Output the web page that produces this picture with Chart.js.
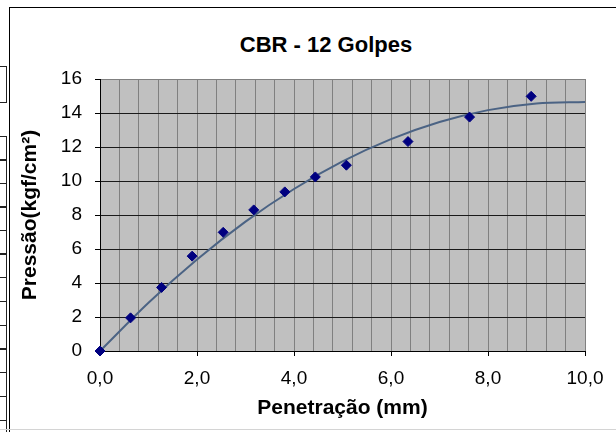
<!DOCTYPE html>
<html lang="pt">
<head>
<meta charset="UTF-8" />
<title>CBR - 12 Golpes</title>
<style>
  body {
    margin: 0;
    background: #fff;
    overflow: hidden;
    font-family: "Liberation Sans", Arial, sans-serif;
  }
  #frame {
    position: absolute;
    left: 9px;
    top: 7px;
    width: 620px;
    height: 440px;
    border-left: 1px solid #000;
    border-top: 1px solid #000;
  }
  #sheetEdge {
    position: absolute;
    left: 0;
    top: 429px;
    width: 616px;
    height: 1px;
    background: #d4d4d4;
  }
  .cell {
    position: absolute;
    left: -1px;
    width: 6px;
    border: 1px solid #222;
  }
  #title {
    position: absolute;
    left: 0;
    width: 652px;
    top: 31px;
    line-height: 28px;
    text-align: center;
    font-weight: bold;
    font-size: 22px;
    color: #000;
  }
  #chart-container {
    position: absolute;
    left: 0;
    top: 0;
    width: 616px;
    height: 432px;
  }
</style>
<script src="https://cdn.jsdelivr.net/npm/chart.js"></script>
</head>
<body>
<div id="cells"></div>
<div id="frame"></div>
<div id="sheetEdge"></div>
<div id="title">CBR - 12 Golpes</div>
<div id="chart-container">
  <canvas id="cbrChart"></canvas>
</div>

<script>
  // leituras do ensaio
  const penetracao = [0, 0.63, 1.27, 1.90, 2.54, 3.17, 3.81, 4.44, 5.08, 6.35, 7.62, 8.89];
  const pressao = [0, 1.95, 3.74, 5.58, 6.98, 8.30, 9.36, 10.24, 10.93, 12.32, 13.76, 14.98];

  // linha de tendencia
  const tendenciaX = [0, 1, 2, 3, 4, 5, 6, 7, 8, 9, 10];
  const tendenciaY = [0, 2.84, 5.38, 7.61, 9.53, 11.15, 12.46, 13.47, 14.17, 14.56, 14.65];

  // celulas da planilha na margem esquerda
  const cellTops = [66, 136, 159, 183, 206, 230, 253, 277, 301, 325, 348, 372, 396, 420];
  const cellsDiv = document.getElementById("cells");
  cellTops.forEach((top, i) => {
    const d = document.createElement("div");
    d.className = "cell";
    d.style.top = top + "px";
    d.style.height = (i === 0 ? 35 : 23) + "px";
    cellsDiv.appendChild(d);
  });

  const isMajor = (v) => Math.abs(v / 2 - Math.round(v / 2)) < 1e-6;

  const plotBackground = {
    id: "plotBackground",
    beforeDraw(chart) {
      const { ctx, chartArea } = chart;
      ctx.save();
      ctx.fillStyle = "#c0c0c0";
      ctx.fillRect(chartArea.left, chartArea.top, chartArea.width, chartArea.height);
      ctx.restore();
    },
  };

  const font = "'Liberation Sans', Arial, sans-serif";

  const ctx = document.getElementById("cbrChart").getContext("2d");
  new Chart(ctx, {
    type: "scatter",
    data: {
      datasets: [
        {
          label: "Pressão",
          data: penetracao.map((x, i) => ({ x: x, y: pressao[i] })),
          pointStyle: "rectRot",
          pointRadius: 5,
          pointBackgroundColor: "#000080",
          pointBorderColor: "#000080",
          pointBorderWidth: 1,
          showLine: false,
          clip: false,
        },
        {
          label: "Tendência",
          data: tendenciaX.map((x, i) => ({ x: x, y: tendenciaY[i] })),
          showLine: true,
          borderColor: "#4b6384",
          borderWidth: 2,
          pointRadius: 0,
          cubicInterpolationMode: "monotone",
        },
      ],
    },
    options: {
      responsive: true,
      maintainAspectRatio: false,
      animation: false,
      layout: {
        padding: { left: 10, top: 79, right: 31, bottom: 0 },
      },
      scales: {
        x: {
          type: "linear",
          min: 0,
          max: 10,
          afterFit: (scale) => { scale.height = 81; },
          ticks: {
            stepSize: 0.4,
            autoSkip: false,
            maxRotation: 0,
            padding: 11,
            color: "#000",
            font: { family: font, size: 19 },
            callback: (v) => (isMajor(v) ? v.toFixed(1).replace(".", ",") : ""),
          },
          grid: {
            color: "#808080",
            lineWidth: 1,
            tickLength: 5,
            tickColor: (c) => (c.tick && isMajor(c.tick.value) ? "#000" : "rgba(0,0,0,0)"),
          },
          border: { color: "#000", width: 1 },
          title: {
            display: true,
            text: "Penetração (mm)",
            color: "#000",
            font: { family: font, size: 21, weight: "bold" },
            padding: { top: 0, bottom: 11 },
          },
        },
        y: {
          min: 0,
          max: 16,
          afterFit: (scale) => { scale.width = 90; },
          ticks: {
            stepSize: 2,
            padding: 13,
            color: "#000",
            font: { family: font, size: 19 },
          },
          grid: {
            color: (c) => (c.tick && c.tick.value === 16 ? "#808080" : "#1a1a1a"),
            lineWidth: 1,
            tickLength: 5,
            tickColor: "#000",
          },
          border: { color: "#000", width: 1 },
          title: {
            display: true,
            text: "Pressão(kgf/cm²)",
            color: "#000",
            font: { family: font, size: 21, weight: "bold" },
            padding: { top: 8, bottom: 0 },
          },
        },
      },
      plugins: {
        legend: { display: false },
        tooltip: { enabled: false },
      },
    },
    plugins: [plotBackground],
  });
</script>
</body>
</html>
